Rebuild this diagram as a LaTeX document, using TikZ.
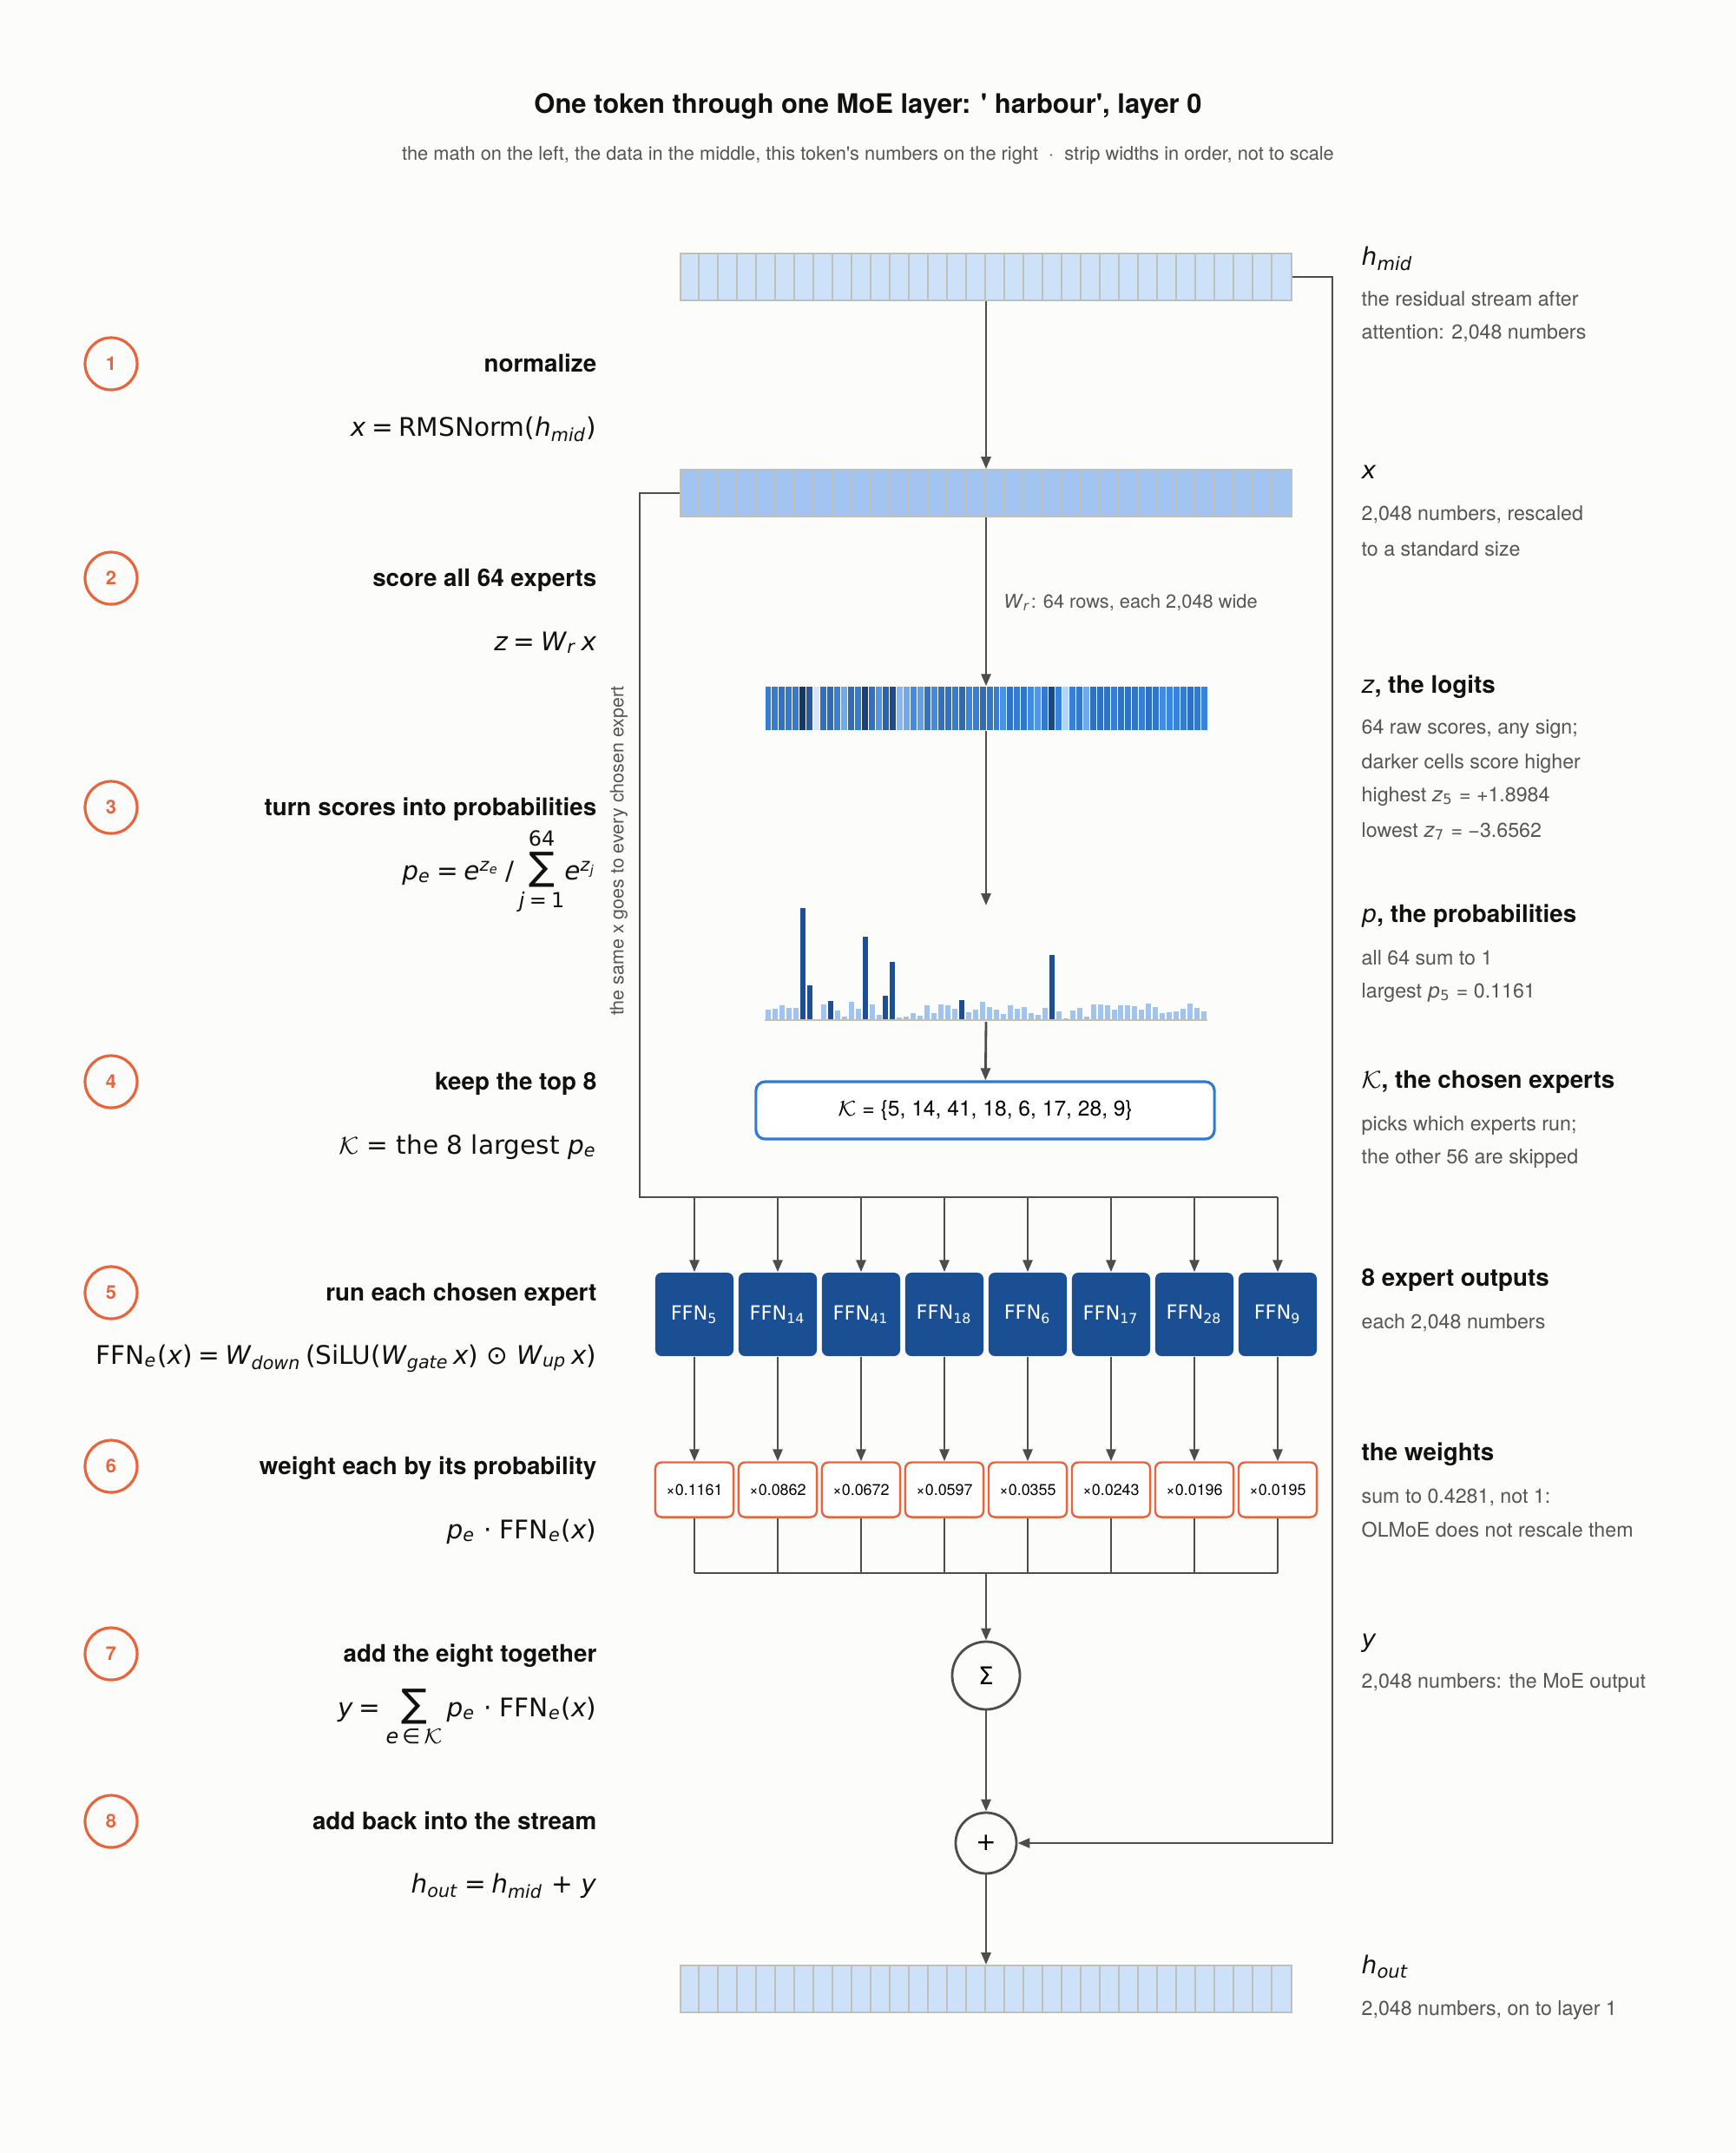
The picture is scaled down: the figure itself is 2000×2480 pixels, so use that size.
\documentclass[tikz,border=0pt]{standalone}
\usepackage{fontspec}
\setmainfont{TeX Gyre Heros}
\newfontfamily\dejavu{DejaVu Sans}
\usepackage{tikz}
\usepackage{xcolor}
\usetikzlibrary{arrows.meta, positioning, calc}
\definecolor{pageBg}{RGB}{252, 252, 250}
\definecolor{lineColor}{RGB}{77, 77, 77}
\definecolor{headerText}{RGB}{17, 17, 17}
\definecolor{subText}{RGB}{85, 85, 85}
\definecolor{accentOrange}{RGB}{232, 100, 60}
\definecolor{cellBorder}{RGB}{192, 192, 186}
\definecolor{streamFill}{RGB}{205, 225, 248}
\definecolor{normFill}{RGB}{161, 196, 241}
\definecolor{logLow}{RGB}{212, 230, 251}
\definecolor{logMid}{RGB}{58, 134, 224}
\definecolor{logHigh}{RGB}{21, 56, 106}
\definecolor{barDark}{RGB}{28, 79, 150}
\definecolor{barLight}{RGB}{160, 196, 240}
\definecolor{axisGray}{RGB}{192, 192, 184}
\definecolor{expertBlue}{RGB}{27, 79, 147}
\definecolor{chosenBlue}{RGB}{47, 122, 210}
\newcommand{\mi}[1]{\textit{#1}}
\newcommand{\sbs}[1]{\textsubscript{#1}}
\newcommand{\eq}{\hspace{0.22em}=\hspace{0.22em}}
\newcommand{\bigsigma}{\mbox{\fontsize{12.6}{13}\selectfont ∑}}
\begin{document}
\begin{tikzpicture}[x=0.01cm, y=-0.01cm]

% Style definitions
\tikzset{
    strip/.style={
        rectangle, draw=cellBorder, line width=0.5pt, minimum width=7.04cm,
        minimum height=0.54cm, inner sep=0pt
    },
    cellsep/.style={draw=cellBorder, line width=0.4pt},
    wire/.style={draw=lineColor, line width=0.8pt, -{Triangle[length=1.4mm, width=1.1mm]}},
    bus/.style={draw=lineColor, line width=0.8pt},
    chosenbox/.style={
        rectangle, draw=chosenBlue, line width=0.9pt, fill=white, rounded corners=3pt,
        minimum width=5.28cm, minimum height=0.66cm, font=\fontsize{7}{8}\selectfont
    },
    expert/.style={
        rectangle, fill=expertBlue, rounded corners=2pt, minimum width=0.9cm,
        minimum height=0.96cm, inner sep=0pt, text=white, font=\dejavu\fontsize{6.4}{7}\selectfont
    },
    weightbox/.style={
        rectangle, draw=accentOrange, line width=0.7pt, fill=white, rounded corners=2pt,
        minimum width=0.9cm, minimum height=0.63cm, inner sep=0pt, font=\fontsize{5.1}{6}\selectfont
    },
    opcircle/.style={circle, draw=lineColor, line width=0.8pt, fill=pageBg, inner sep=0pt,
        font=\dejavu\fontsize{8}{9}\selectfont},
    stepnum/.style={circle, draw=accentOrange, line width=0.9pt, minimum size=0.6cm, inner sep=0pt,
        text=accentOrange, font=\bfseries\fontsize{6.2}{7}\selectfont},
    steptitle/.style={anchor=mid east, inner sep=0pt, text=headerText, font=\bfseries\fontsize{7.9}{9}\selectfont},
    formula/.style={anchor=mid east, inner sep=0pt, text=headerText, font=\dejavu\fontsize{8.4}{10}\selectfont},
    notehead/.style={anchor=mid west, inner sep=0pt, text=headerText, font=\bfseries\fontsize{7.9}{9}\selectfont},
    notevar/.style={anchor=mid west, inner sep=0pt, text=headerText, font=\dejavu\itshape\fontsize{8}{9}\selectfont},
    notetext/.style={anchor=mid west, inner sep=0pt, text=subText, font=\fontsize{6.6}{8}\selectfont}
}

\fill[pageBg] (0,0) rectangle (2000,2480);
\useasboundingbox (0,0) rectangle (2000,2480);

% Title
\node (top_label) [font=\bfseries\fontsize{8.8}{10}\selectfont, text=headerText] at (1000,122)
    {One token through one MoE layer: \textquotesingle\ harbour\textquotesingle, layer 0};
\node (sub_label) [font=\fontsize{6.2}{7}\selectfont, text=subText] at (1000,179)
    {the math on the left, the data in the middle, this token\textquotesingle s numbers on the right~~·~~strip widths in order, not to scale};

% Residual stream and normalized vector
\node (h_mid) [strip, fill=streamFill] at (1136,319) {};
\node (x_vec) [strip, fill=normFill] at (1136,568) {};
\node (h_out) [strip, fill=streamFill] at (1136,2291) {};
\foreach \s in {h_mid, x_vec, h_out}
    \foreach \i in {1,...,31}
        \draw [cellsep] ($(\s.north west)+(\i*22,0)$) -- ($(\s.south west)+(\i*22,0)$);

\node (wr_label) [notetext, font=\fontsize{6.2}{7}\selectfont] at (1156,691)
    {{\dejavu\mi{W}\sbs{\mi{r}}}: 64 rows, each 2,048 wide};

% Logits strip and probability bars
\node (logits) [inner sep=0pt, minimum width=5.1cm, minimum height=0.5cm] at (1136,816) {};
\foreach \p [count=\i from 0] in {100,109,145,118,118,1161,355,4.5,154,195,91,27,181,109,862,154,
        45,243,597,18,27,63,36,145,63,154,145,109,196,73,100,181,127,100,54,145,109,127,63,45,
        118,672,82,8,91,118,27,154,154,145,100,145,145,136,100,163,127,63,73,82,109,163,118,82} {
    \pgfmathsetmacro{\tval}{(ln(\p/1161)+5.5546)/5.5546}
    \pgfmathtruncatemacro{\pa}{min(100,max(0,200*\tval))}
    \pgfmathtruncatemacro{\pb}{min(100,max(0,200*(\tval-0.5)))}
    \colorlet{cellA}{logMid!\pa!logLow}
    \colorlet{cellC}{logHigh!\pb!cellA}
    \fill [cellC] ({881+\i*7.97+0.5},791) rectangle ({881+(\i+1)*7.97-0.5},841);
    \pgfmathsetmacro{\bh}{\p/1161*128}
    \ifdim\p pt>190pt \def\bc{barDark}\else\def\bc{barLight}\fi
    \fill [\bc] ({881+\i*7.97+1},1174) rectangle ({881+\i*7.97+7},{1174-\bh});
}
\draw [axisGray, line width=0.7pt] (881,1175) -- (1391,1175);
\coordinate (probs_top) at (1136,1043);
\coordinate (probs_base) at (1136,1177);

% Chosen set
\node (k_set) [chosenbox] at (1135,1279) {$\mathcal{K}$ = \{5, 14, 41, 18, 6, 17, 28, 9\}};

% Experts and weights
\coordinate (split_l) at (737,1379);
\coordinate (collect_l) at (800,1812);
\foreach \e/\w [count=\k from 0] in {5/0.1161, 14/0.0862, 41/0.0672, 18/0.0597, 6/0.0355, 17/0.0243, 28/0.0196, 9/0.0195} {
    \node (ffn_\k) [expert] at ({800+96*\k},1514) {FFN\sbs{\e}};
    \node (wt_\k) [weightbox] at ({800+96*\k},1716) {×\w};
    \draw [wire] (ffn_\k.north |- split_l) -- (ffn_\k);
    \draw [wire] (ffn_\k) -- (wt_\k);
    \draw [bus] (wt_\k.south) -- (wt_\k.south |- collect_l);
}

\node (sum_op) [opcircle, minimum size=0.78cm] at (1136,1930) {Σ};
\node (add_op) [opcircle, minimum size=0.70cm] at (1136,2123) {+};

% Connections
\draw [wire] (h_mid) -- (x_vec);
\draw [wire] (x_vec) -- (logits);
\draw [wire] (logits) -- (probs_top);
\draw [wire] (probs_base) -- (k_set);
\draw [bus] (x_vec.west) -- (x_vec.west -| split_l) -- (split_l) -- (split_l -| ffn_7.north);
\draw [bus] (collect_l) -- (collect_l -| wt_7.south);
\draw [wire] (collect_l -| sum_op) -- (sum_op);
\draw [wire] (sum_op) -- (add_op);
\draw [wire] (add_op) -- (h_out);
\coordinate (res_turn) at (1535,319);
\draw [wire] (h_mid.east) -- (res_turn) |- (add_op.east);

\node (same_x) [rotate=90, text=subText, font=\fontsize{6.1}{7}\selectfont] at (713,980)
    {the same x goes to every chosen expert};

% Steps on the left
\foreach \n/\y/\txt in {1/419/normalize, 2/666/score all 64 experts, 3/930/turn scores into probabilities,
        4/1246/keep the top 8, 5/1489/run each chosen expert, 6/1689/weight each by its probability,
        7/1905/add the eight together, 8/2098/add back into the stream} {
    \node (step_\n) [stepnum] at (128,\y) {\n};
    \node (title_\n) [steptitle] at (688,\y) {\txt};
}

\node (math_1) [formula] at (688,493) {\mi{x}\eq RMSNorm(\mi{h}\sbs{\mi{mid}})};
\node (math_2) [formula] at (688,740) {\mi{z}\eq\mi{W}\sbs{\mi{r}}\,\mi{x}};
\node (math_3) [formula] at (688,1004) {\mi{p}\sbs{\mi{e}}\eq\mi{e}\textsuperscript{\mi{z}\sbs{\mi{e}}}\hspace{0.2em}/\hspace{0.2em}%
    $\mathop{\bigsigma}\limits_{\mbox{\fontsize{6.8}{7}\selectfont\mi{j}\eq 1}}^{\mbox{\fontsize{6.8}{7}\selectfont 64}}$\mi{e}\textsuperscript{\mi{z}\sbs{\mi{j}}}};
\node (math_4) [formula] at (688,1320) {$\mathcal{K}$ = the 8 largest \mi{p}\sbs{\mi{e}}};
\node (math_5) [formula] at (688,1562)
    {FFN\sbs{\mi{e}}(\mi{x})\eq\mi{W}\sbs{\mi{down}}\,(SiLU(\mi{W}\sbs{\mi{gate}}\,\mi{x}) ⊙ \mi{W}\sbs{\mi{up}}\,\mi{x})};
\node (math_6) [formula] at (688,1763) {\mi{p}\sbs{\mi{e}} ⋅ FFN\sbs{\mi{e}}(\mi{x})};
\node (math_7) [formula] at (688,1968) {\mi{y}\eq%
    $\mathop{\bigsigma}\limits_{\mbox{\fontsize{6.8}{7}\selectfont\mi{e}\,∈\,$\mathcal{K}$}}$\,\mi{p}\sbs{\mi{e}} ⋅ FFN\sbs{\mi{e}}(\mi{x})};
\node (math_8) [formula] at (688,2171) {\mi{h}\sbs{\mi{out}}\eq\mi{h}\sbs{\mi{mid}} + \mi{y}};

% Notes on the right
\node (note_hmid) [notevar] at (1568,296) {\mi{h}\sbs{\mi{mid}}};
\node (note_x) [notevar] at (1568,542) {\mi{x}};
\node (note_z) [notehead] at (1568,789) {{\dejavu\mdseries\mi{z}}, the logits};
\node (note_p) [notehead] at (1568,1053) {{\dejavu\mdseries\mi{p}}, the probabilities};
\node (note_k) [notehead] at (1568,1244) {$\mathcal{K}$, the chosen experts};
\node (note_ffn) [notehead] at (1568,1472) {8 expert outputs};
\node (note_wt) [notehead] at (1568,1673) {the weights};
\node (note_y) [notevar] at (1568,1888) {\mi{y}};
\node (note_hout) [notevar] at (1568,2264) {\mi{h}\sbs{\mi{out}}};
\foreach \y/\txt [count=\k] in {343/{the residual stream after}, 381/{attention: 2,048 numbers},
        590/{2,048 numbers, rescaled}, 631/{to a standard size},
        836/{64 raw scores, any sign;}, 876/{darker cells score higher},
        914/{highest {\dejavu\mi{z}\sbs{5}} = +1.8984}, 955/{lowest {\dejavu\mi{z}\sbs{7}} = −3.6562},
        1102/{all 64 sum to 1}, 1140/{largest {\dejavu\mi{p}\sbs{5}} = 0.1161},
        1293/{picks which experts run;}, 1331/{the other 56 are skipped},
        1521/{each 2,048 numbers},
        1722/{sum to 0.4281, not 1:}, 1761/{OLMoE does not rescale them},
        1935/{2,048 numbers: the MoE output},
        2312/{2,048 numbers, on to layer 1}}
    \node (line_\k) [notetext] at (1568,\y) {\txt};

\end{tikzpicture}
\end{document}
